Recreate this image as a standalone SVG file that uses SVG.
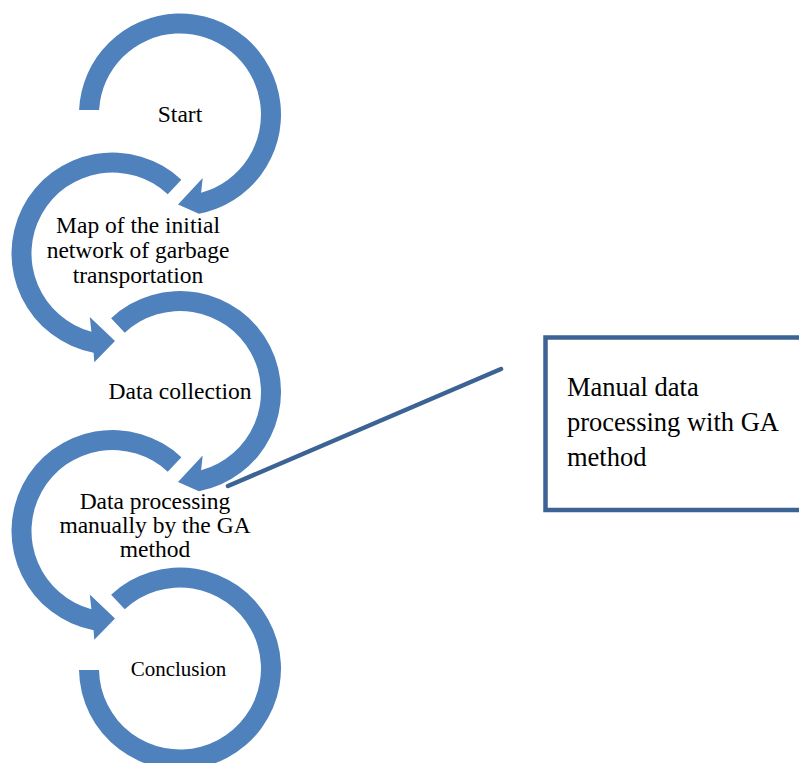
<svg xmlns="http://www.w3.org/2000/svg" width="799" height="763" viewBox="0 0 799 763">
<style>
.ring{fill:#4F81BD;stroke:none}
.t{font-family:"Liberation Serif","Times New Roman",serif;font-size:23.5px;fill:#000;text-anchor:middle}
.tc{font-size:21px}
.bt{font-family:"Liberation Serif","Times New Roman",serif;font-size:26.5px;fill:#000}
.conn{stroke:#3B6394;stroke-width:4.5;stroke-linecap:round;fill:none}
.box{fill:#fff;stroke:#3B6394;stroke-width:4.5}
</style>
<rect width="799" height="763" fill="#fff"/>
<g id="connectors">
<line class="conn" x1="228" y1="486" x2="501" y2="369"/>
</g>
<g id="node-start">
<path class="ring" d="M 79.1,110 A 101 101 0 1 1 198.9,213.7 L 178,204.5 L 202.7,178 L 201.1,192.7 A 81 81 0 1 0 99.1,110 Z"/>
<text class="t" x="180" y="121.5">Start</text>
</g>
<g id="node-map">
<path class="ring" d="M 181.38,179.63 A 101 101 0 1 0 93.6,352.7 L 94.3,362.2 L 115,341 L 89.8,317 L 91.4,331.7 A 81 81 0 1 1 167.74,194.26 Z"/>
<text class="t" x="138" y="232.5">Map of the initial</text>
<text class="t" x="138" y="257.5">network of garbage</text>
<text class="t" x="138" y="282.5">transportation</text>
</g>
<g id="node-data-collection">
<path class="ring" d="M 111.12,318.13 A 101 101 0 1 1 198.9,491.2 L 178,482 L 202.7,455.5 L 201.1,470.2 A 81 81 0 1 0 124.76,332.76 Z"/>
<text class="t" x="180" y="398.5">Data collection</text>
</g>
<g id="node-data-processing">
<path class="ring" d="M 181.38,457.13 A 101 101 0 1 0 93.6,630.2 L 94.3,639.7 L 115,618.5 L 89.8,594.5 L 91.4,609.2 A 81 81 0 1 1 167.74,471.76 Z"/>
<text class="t" x="155" y="508.5">Data processing</text>
<text class="t" x="155" y="532.5">manually by the GA</text>
<text class="t" x="155" y="556.5">method</text>
</g>
<g id="node-conclusion">
<path class="ring" d="M 111.12,594.63 A 101 101 0 1 1 79,670 L 99,670 A 81 81 0 1 0 124.76,609.26 Z"/>
<text class="t tc" x="178.5" y="676">Conclusion</text>
</g>
<g id="node-manual">
<rect class="box" x="545.5" y="337.5" width="300" height="172.5"/>
<text class="bt" x="567" y="396">Manual data</text>
<text class="bt" x="567" y="431">processing with GA</text>
<text class="bt" x="567" y="466">method</text>
</g>
</svg>
